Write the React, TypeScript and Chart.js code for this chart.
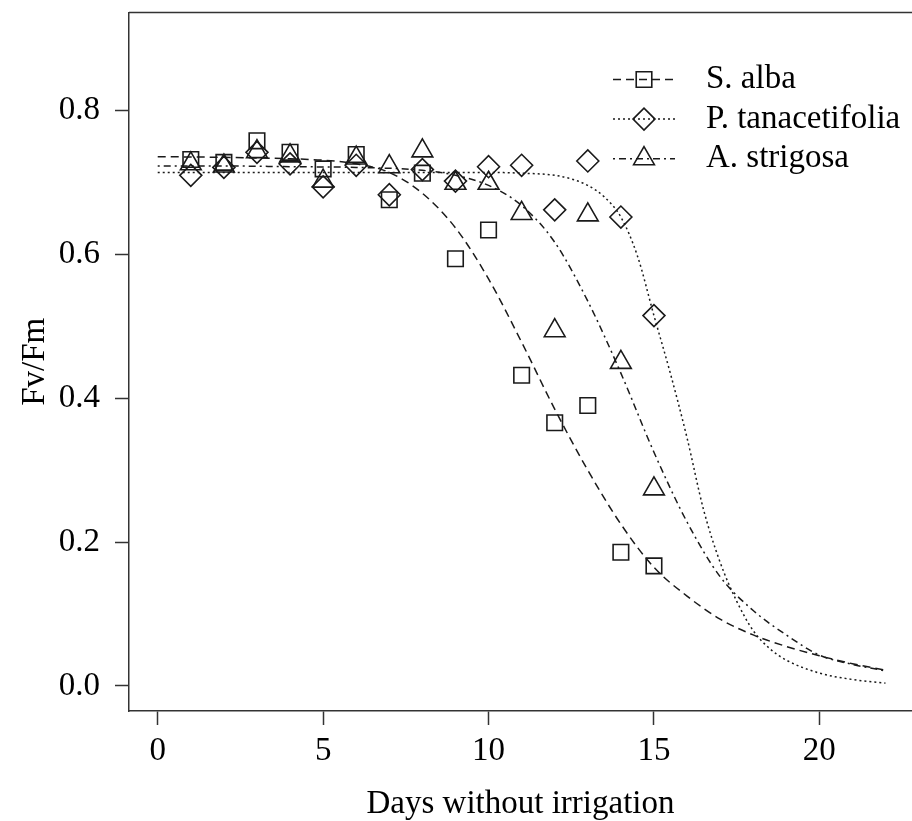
import React, { useEffect, useRef } from 'react';
import { Chart, registerables } from 'chart.js';

Chart.register(...registerables);

// ---- data ----
const seriesNames = ['S. alba', 'P. tanacetifolia', 'A. strigosa'];
const days = [1, 2, 3, 4, 5, 6, 7, 8, 9, 10, 11, 12, 13, 14, 15];
const albaObs = [0.732, 0.728, 0.758, 0.742, 0.719, 0.739, 0.676, 0.713, 0.594, 0.634, 0.432, 0.366, 0.390, 0.186, 0.167];
const tanaObs = [0.710, 0.721, 0.742, 0.726, 0.694, 0.724, 0.683, 0.718, 0.702, 0.722, 0.724, 0.662, 0.730, 0.652, 0.515];
const strigObs = [0.726, 0.723, 0.743, 0.737, 0.702, 0.734, 0.722, 0.744, 0.699, 0.699, 0.657, 0.494, 0.655, 0.450, 0.274];

// fitted curves at these days
const albaFitX = [0, 2, 4, 5, 6, 7, 8, 9, 10, 11, 12, 13, 14, 15, 16, 17, 18, 19, 20, 21, 22];
const albaFitY = [0.736, 0.735, 0.733, 0.731, 0.726, 0.714, 0.685, 0.637, 0.566, 0.478, 0.385, 0.300, 0.225, 0.165, 0.125, 0.093, 0.071, 0.055, 0.042, 0.031, 0.022];
const tanaFitX = [0, 4, 8, 10, 11, 12, 12.5, 13, 13.5, 14, 14.5, 15, 15.5, 16, 16.5, 17, 17.5, 18, 18.5, 19, 20, 21, 22];
const tanaFitY = [0.714, 0.714, 0.714, 0.714, 0.713, 0.710, 0.705, 0.696, 0.680, 0.652, 0.598, 0.515, 0.434, 0.345, 0.245, 0.172, 0.118, 0.077, 0.052, 0.036, 0.018, 0.009, 0.004];
const strigFitX = [0, 2, 4, 6, 8, 9, 10, 11, 12, 13, 14, 15, 16, 17, 18, 19, 20, 21, 22];
const strigFitY = [0.723, 0.723, 0.722, 0.721, 0.717, 0.710, 0.696, 0.668, 0.617, 0.535, 0.435, 0.325, 0.228, 0.152, 0.105, 0.071, 0.043, 0.030, 0.021];

const xTicks = [0, 5, 10, 15, 20];
const yTicks = [0, 0.2, 0.4, 0.6, 0.8];

const FONT = "'Liberation Serif', 'DejaVu Serif', 'Times New Roman', serif";
const INK = '#1a1a1a';
const AXIS = '#333333';

const dashes = [[8, 5], [2, 3], [2, 4, 7, 4]];
const pointStyles = ['rect', 'rectRot', 'triangle'];
const pointRadii = [11, 11, 12];

const toPts = (xs: number[], ys: number[]) => xs.map((x, i) => ({ x, y: ys[i] }));

function drawSymbol(ctx: CanvasRenderingContext2D, style: string, r: number, x: number, y: number) {
  ctx.beginPath();
  if (style === 'rect') {
    const s = Math.SQRT1_2 * r;
    ctx.rect(x - s, y - s, 2 * s, 2 * s);
  } else if (style === 'rectRot') {
    ctx.moveTo(x - r, y);
    ctx.lineTo(x, y - r);
    ctx.lineTo(x + r, y);
    ctx.lineTo(x, y + r);
    ctx.closePath();
  } else {
    let a = 0;
    ctx.moveTo(x + Math.sin(a) * r, y - Math.cos(a) * r);
    a += (2 * Math.PI) / 3;
    ctx.lineTo(x + Math.sin(a) * r, y - Math.cos(a) * r);
    a += (2 * Math.PI) / 3;
    ctx.lineTo(x + Math.sin(a) * r, y - Math.cos(a) * r);
    ctx.closePath();
  }
  ctx.stroke();
}

const framePlugin = {
  id: 'frameTop',
  afterDraw(chart: any) {
    const { ctx, chartArea } = chart;
    ctx.save();
    ctx.strokeStyle = AXIS;
    ctx.lineWidth = 1.5;
    ctx.beginPath();
    ctx.moveTo(chartArea.left, chartArea.top);
    ctx.lineTo(chartArea.right, chartArea.top);
    ctx.stroke();
    ctx.restore();
  },
};

const legendPlugin = {
  id: 'rLegend',
  afterDraw(chart: any) {
    const { ctx } = chart;
    ctx.save();
    const x0 = 613;
    const x1 = 675;
    const xs = 644;
    const xt = 706;
    const y0 = 79.5;
    const dy = 39.6;
    seriesNames.forEach((name, i) => {
      const y = y0 + i * dy;
      ctx.strokeStyle = INK;
      ctx.lineWidth = 1.5;
      ctx.setLineDash(dashes[i]);
      ctx.beginPath();
      ctx.moveTo(x0, y);
      ctx.lineTo(x1, y);
      ctx.stroke();
      ctx.setLineDash([]);
      ctx.lineWidth = 1.6;
      drawSymbol(ctx, pointStyles[i], pointRadii[i], xs, y);
      ctx.fillStyle = '#000';
      ctx.font = `33px ${FONT}`;
      ctx.textAlign = 'left';
      ctx.textBaseline = 'middle';
      ctx.fillText(name, xt, y);
    });
    ctx.restore();
  },
};

export default function App() {
  const ref = useRef<HTMLCanvasElement | null>(null);

  useEffect(() => {
    if (!ref.current) return;
    const fits = [toPts(albaFitX, albaFitY), toPts(tanaFitX, tanaFitY), toPts(strigFitX, strigFitY)];
    const obs = [albaObs, tanaObs, strigObs].map((ys) => toPts(days, ys));

    const lineSets = fits.map((data, i) => ({
      label: seriesNames[i] + ' fit',
      data,
      showLine: true,
      borderColor: INK,
      borderWidth: 1.5,
      borderDash: dashes[i],
      pointRadius: 0,
      pointHoverRadius: 0,
      cubicInterpolationMode: 'monotone' as const,
      fill: false,
    }));
    const pointSets = obs.map((data, i) => ({
      label: seriesNames[i],
      data,
      showLine: false,
      pointStyle: pointStyles[i],
      pointRadius: pointRadii[i],
      pointHoverRadius: pointRadii[i],
      pointBorderWidth: 1.6,
      borderColor: INK,
      backgroundColor: 'rgba(0,0,0,0)',
    }));

    const tickFont = { family: FONT, size: 33, lineHeight: 1.2 };

    const chart = new Chart(ref.current, {
      type: 'scatter',
      data: { datasets: [...pointSets, ...lineSets] as any },
      options: {
        animation: false,
        responsive: false,
        maintainAspectRatio: false,
        layout: { autoPadding: false, padding: { top: 12.6, right: 0, left: 0, bottom: 0 } },
        plugins: {
          legend: { display: false },
          tooltip: { enabled: false },
          title: { display: false },
        },
        scales: {
          x: {
            type: 'linear',
            min: -0.868,
            max: 22.8,
            afterBuildTicks: (s: any) => {
              s.ticks = xTicks.map((v) => ({ value: v }));
            },
            afterFit: (s: any) => {
              s.height = 110;
              s.paddingLeft = 0;
              s.paddingRight = 0;
            },
            ticks: {
              font: tickFont,
              color: '#000',
              padding: 7,
              maxRotation: 0,
              autoSkip: false,
              callback: (v: any) => String(v),
            },
            grid: {
              drawOnChartArea: false,
              drawTicks: true,
              tickLength: 14,
              tickWidth: 1.5,
              tickColor: AXIS,
            },
            border: { display: true, color: AXIS, width: 1.5 },
            title: {
              display: true,
              text: 'Days without irrigation',
              color: '#000',
              font: { family: FONT, size: 33, lineHeight: 1 },
              padding: { top: 0, bottom: 0.5 },
            },
          },
          y: {
            type: 'linear',
            min: -0.03476,
            max: 0.93625,
            afterBuildTicks: (s: any) => {
              s.ticks = yTicks.map((v) => ({ value: v }));
            },
            afterFit: (s: any) => {
              s.width = 129;
              s.paddingTop = 0;
              s.paddingBottom = 0;
            },
            ticks: {
              font: tickFont,
              color: '#000',
              padding: 15,
              autoSkip: false,
              callback: (v: any) => Number(v).toFixed(1),
            },
            grid: {
              drawOnChartArea: false,
              drawTicks: true,
              tickLength: 14,
              tickWidth: 1.5,
              tickColor: AXIS,
            },
            border: { display: true, color: AXIS, width: 1.5 },
            title: {
              display: true,
              text: 'Fv/Fm',
              color: '#000',
              font: { family: FONT, size: 33, lineHeight: 1 },
              padding: { top: 18.5, bottom: 0 },
            },
          },
        },
      },
      plugins: [framePlugin, legendPlugin],
    });
    return () => chart.destroy();
  }, []);

  return (
    <div style={{ position: 'absolute', left: 0, top: 0, width: 912, height: 821, background: '#fff' }}>
      <canvas ref={ref} width={912} height={821} style={{ width: 912, height: 821, display: 'block' }} />
    </div>
  );
}
